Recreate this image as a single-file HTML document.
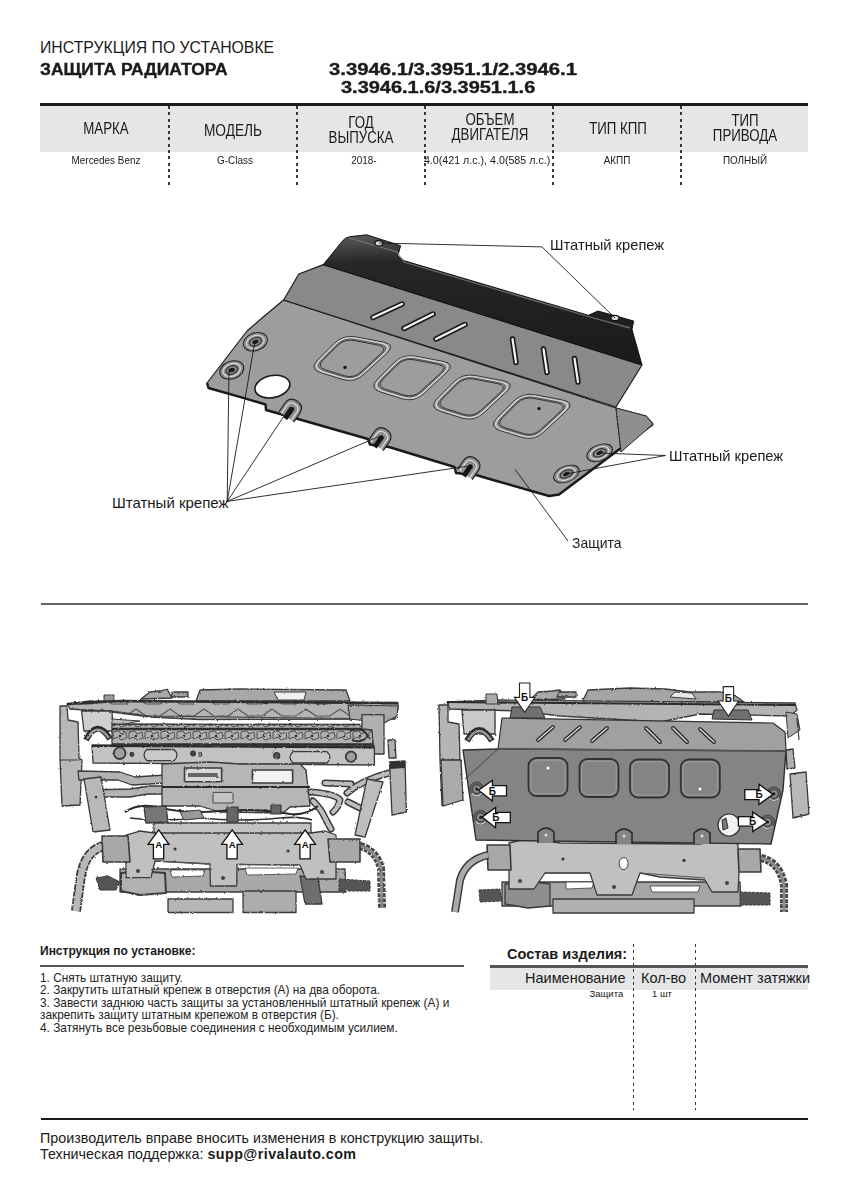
<!DOCTYPE html>
<html><head><meta charset="utf-8">
<style>
html,body{margin:0;padding:0;background:#fff;}
body{width:849px;height:1200px;position:relative;overflow:hidden;font-family:"Liberation Sans",sans-serif;color:#1a1a1a;}
.a{position:absolute;white-space:nowrap;line-height:1;}
.b{font-weight:bold;}
.hl{position:absolute;background:#1a1a1a;}
.dv{position:absolute;width:1.5px;background:repeating-linear-gradient(to bottom,#3a3a3a 0 3px,transparent 3px 6.3px);}
.c{text-align:center;}
.th{width:128px;font-size:16px;transform:scaleX(0.83);transform-origin:50% 0;}
.td{width:128px;font-size:11px;transform:scaleX(0.9);transform-origin:50% 0;}
</style></head><body>
<!-- header -->
<div class="a" id="t1" style="left:40px;top:40px;font-size:15.8px;">ИНСТРУКЦИЯ ПО УСТАНОВКЕ</div>
<div class="a b" id="t2" style="-webkit-text-stroke:0.35px #1a1a1a;left:40px;top:61.5px;font-size:15.6px;transform:scaleX(1.12);transform-origin:0 0;">ЗАЩИТА РАДИАТОРА</div>
<div class="a b" id="t3" style="-webkit-text-stroke:0.35px #1a1a1a;left:329px;top:61.5px;font-size:15.6px;transform:scaleX(1.3);transform-origin:0 0;">3.3946.1/3.3951.1/2.3946.1</div>
<div class="a b" id="t4" style="-webkit-text-stroke:0.35px #1a1a1a;left:341px;top:79.5px;font-size:15.6px;transform:scaleX(1.28);transform-origin:0 0;">3.3946.1.6/3.3951.1.6</div>

<!-- table -->
<div class="hl" style="left:40px;top:103.2px;width:768px;height:2.4px;"></div>
<div style="position:absolute;left:40px;top:105.5px;width:768px;height:46px;background:#e5e6e8;"></div>
<div class="dv" style="left:168px;top:106px;height:80px;"></div>
<div class="dv" style="left:296px;top:106px;height:80px;"></div>
<div class="dv" style="left:424px;top:106px;height:80px;"></div>
<div class="dv" style="left:552px;top:106px;height:80px;"></div>
<div class="dv" style="left:680px;top:106px;height:80px;"></div>

<div class="a c th" style="left:41.5px;top:121px;">МАРКА</div>
<div class="a c th" style="left:169px;top:122px;font-size:16.5px;">МОДЕЛЬ</div>
<div class="a c th" style="left:296.5px;top:114.5px;line-height:15.3px;">ГОД<br>ВЫПУСКА</div>
<div class="a c th" style="left:426px;top:111.5px;line-height:15.3px;">ОБЪЕМ<br>ДВИГАТЕЛЯ</div>
<div class="a c th" style="left:554px;top:121px;">ТИП КПП</div>
<div class="a c th" style="left:681px;top:113px;line-height:15.3px;">ТИП<br>ПРИВОДА</div>

<div class="a c td" style="left:42px;top:154.5px;">Mercedes Benz</div>
<div class="a c td" style="left:171px;top:154.5px;">G-Class</div>
<div class="a c td" style="left:300px;top:154.5px;">2018-</div>
<div class="a c td" style="left:422px;top:154.5px;transform:scaleX(0.97);">4.0(421 л.с.), 4.0(585 л.с.)</div>
<div class="a c td" style="left:553px;top:154.5px;">АКПП</div>
<div class="a c td" style="left:681px;top:154.5px;">ПОЛНЫЙ</div>

<!--DRAW-->
<svg style="position:absolute;left:0;top:0" width="849" height="600" viewBox="0 0 849 600">
<defs>
<linearGradient id="gfl" x1="0" y1="0" x2="0.08" y2="1">
<stop offset="0" stop-color="#5a5b5c"/><stop offset="0.22" stop-color="#262728"/><stop offset="1" stop-color="#1a1b1c"/>
</linearGradient>
<g id="hole">
<ellipse cx="0" cy="0" rx="12.4" ry="8.8" fill="#8d8e90" stroke="#222" stroke-width="1"/>
<ellipse cx="0" cy="0" rx="9" ry="6.2" fill="none" stroke="#d8d8d8" stroke-width="1.2"/>
<ellipse cx="0" cy="0" rx="6" ry="4" fill="none" stroke="#333" stroke-width="1.2"/>
<ellipse cx="0" cy="0" rx="3.2" ry="2" fill="#1a1a1a"/>
</g>
<g id="notch">
<path d="M-9,9 L-9,-1 Q-9,-10 0,-10 Q9,-10 9,-1 L9,9" fill="#8f9092" stroke="#222" stroke-width="1.2"/>
<path d="M-6,9 L-6,-1 Q-6,-6.5 0,-6.5 Q6,-6.5 6,-1 L6,9" fill="none" stroke="#dcdcdc" stroke-width="1.3"/>
<path d="M-2.4,11 L-2.4,-1.5 Q0,-4.5 2.4,-1.5 L2.4,11 Z" fill="#151515"/>
</g>
<g id="win" fill="none">
<path d="M333.9,343.6 Q343.1,334.4 355.9,336.9 L383.4,342.1 Q396.2,344.6 386.7,353.4 L364.0,374.4 Q354.5,383.2 342.1,379.4 L321.0,372.8 Q308.6,369.0 317.8,359.8 Z" stroke="#3a3a3a" stroke-width="1"/>
<path d="M335.2,344.5 Q343.6,336.0 355.4,338.3 L381.2,343.3 Q393.0,345.5 384.2,353.7 L363.0,373.3 Q354.2,381.4 342.8,377.9 L323.0,371.8 Q311.5,368.2 320.0,359.7 Z" stroke="#d0d0d0" stroke-width="1.5"/>
<path d="M336.3,345.2 Q344.1,337.4 354.9,339.5 L379.5,344.2 Q390.3,346.3 382.2,353.8 L362.1,372.4 Q354.0,379.9 343.5,376.6 L324.6,370.8 Q314.1,367.5 321.8,359.8 Z" stroke="#555" stroke-width="1"/>
<path d="M337.4,345.7 Q344.5,338.6 354.3,340.5 L378.2,345.1 Q388.0,347.0 380.7,353.8 L361.1,371.8 Q353.8,378.6 344.2,375.7 L325.7,369.9 Q316.2,367.0 323.2,359.9 Z" stroke="#333" stroke-width="1"/>
</g>
</defs>
<!-- main panel -->
<path d="M283.6,300 L262,318 L247,331 L207,383 L208.5,388 L245,398.4 L265.5,404.5 L266,410 L291,417 L368,439 L370,444.5 L389,447 L454.5,467 L456,473 L476,475 L493,480 L549,496 L559,494.5 L653,424 L646,416 L616,408 Z" fill="#9c9d9f" stroke="#1c1c1c" stroke-width="1.2" stroke-linejoin="round"/>
<path d="M207,383 L208.5,388 L245,398.4 L265.5,404.5 L266,410 L291,417 L368,439 L370,444.5 L389,447 L454.5,467 L456,473 L476,475 L493,480 L549,496 L559,494.5 L653,424" fill="none" stroke="#1a1a1a" stroke-width="2.4" stroke-linejoin="round"/>
<!-- flap -->
<path d="M616,408 L646,416 L653,424 L621,452 Z" fill="#8e8f91" stroke="#333" stroke-width="1"/>
<path d="M616,409 L621,452" stroke="#222" stroke-width="1" stroke-dasharray="2,1.5" fill="none"/>
<!-- mid panel -->
<path d="M323.3,264.6 L298.8,274 L289.5,290 L283.6,300 L616,407 L642,365 Z" fill="#87898a" stroke="#1c1c1c" stroke-width="1.2" stroke-linejoin="round"/>
<!-- black flange -->
<path d="M323.3,264.6 L342,241.5 Q345,237.5 349.7,236.7 L366.7,234.8 L400.6,245.7 L397.8,256 L404.4,260.8 L588.4,315.3 L598,311 L633.6,321 L632,329.5 L642,365 Z" fill="url(#gfl)" stroke="#111" stroke-width="1"/>
<path d="M349.7,238 L397,252 L404,262 L590,317 L630,328" fill="none" stroke="#8a8b8c" stroke-width="1.3" opacity="0.7"/>
<ellipse cx="379" cy="243.3" rx="4" ry="2.6" fill="#ddd" stroke="#111" stroke-width="1.2"/>
<ellipse cx="615" cy="318" rx="4" ry="2.6" fill="#ddd" stroke="#111" stroke-width="1.2"/>
<!-- slots -->
<g stroke="#1a1a1a" stroke-width="5.5" stroke-linecap="round"><line x1="373" y1="317.5" x2="402" y2="304"/><line x1="404" y1="328.5" x2="433" y2="314"/><line x1="436" y1="339" x2="465" y2="324.5"/><line x1="512.5" y1="339" x2="516" y2="362.5"/><line x1="543.5" y1="349" x2="547" y2="372.5"/><line x1="574.5" y1="358.5" x2="578" y2="382"/></g>
<g stroke="#f4f4f4" stroke-width="2.2" stroke-linecap="round"><line x1="373" y1="317.5" x2="402" y2="304"/><line x1="404" y1="328.5" x2="433" y2="314"/><line x1="436" y1="339" x2="465" y2="324.5"/><line x1="512.5" y1="339" x2="516" y2="362.5"/><line x1="543.5" y1="349" x2="547" y2="372.5"/><line x1="574.5" y1="358.5" x2="578" y2="382"/></g>
<!-- windows -->
<use href="#win"/>
<use href="#win" x="59.8" y="19.3"/>
<use href="#win" x="119.6" y="38.6"/>
<use href="#win" x="179.4" y="57.9"/>
<circle cx="345" cy="367.4" r="1.7" fill="#111"/>
<circle cx="539" cy="408.6" r="1.7" fill="#111"/>
<!-- holes -->
<use href="#hole" transform="translate(255.4,341.8) rotate(-20)"/>
<use href="#hole" transform="translate(231.8,370) rotate(-20)"/>
<use href="#hole" transform="translate(599.6,452.8) rotate(-22) scale(1.08,0.9)"/>
<use href="#hole" transform="translate(566.4,474) rotate(-22) scale(1.08,0.9)"/>
<ellipse cx="272.4" cy="386.6" rx="17.7" ry="11" transform="rotate(-12 272.4 386.6)" fill="#fff" stroke="#1a1a1a" stroke-width="1.6"/>
<use href="#notch" transform="translate(291.5,409.5) rotate(35)"/>
<use href="#notch" transform="translate(381,438) rotate(35)"/>
<use href="#notch" transform="translate(470,467) rotate(35)"/>
<!-- leaders -->
<g stroke="#1a1a1a" stroke-width="0.9" fill="none">
<polyline points="379,243 542,246.9 615,318"/>
<polyline points="227.2,501.4 229,369"/>
<polyline points="227.2,501.4 255,341"/>
<polyline points="227.2,501.4 290,407"/>
<polyline points="227.2,501.4 380,436"/>
<polyline points="227.2,501.4 469,466"/>
<polyline points="599,453 665.4,455.5 566,474"/>
<polyline points="515.3,469.7 568,541"/>
</g>
</svg>
<div class="a" style="left:550px;top:237px;font-size:15px;transform:scaleX(0.98);transform-origin:0 0;">Штатный крепеж</div>
<div class="a" style="left:669px;top:448px;font-size:15px;transform:scaleX(0.98);transform-origin:0 0;">Штатный крепеж</div>
<div class="a" style="left:112px;top:495px;font-size:15px;">Штатный крепеж</div>
<div class="a" style="left:571.5px;top:534.5px;font-size:15px;transform:scaleX(0.93);transform-origin:0 0;">Защита</div>

<!--/DRAW-->

<!-- mid line -->
<div class="hl" style="left:40.5px;top:603px;width:767.5px;height:2px;background:#666;"></div>

<!-- PHOTOS -->
<!--LP-->
<svg style="position:absolute;left:0;top:0" width="849" height="1200" viewBox="0 0 849 1200">
<defs>
<filter id="rough" x="-5%" y="-5%" width="110%" height="110%"><feTurbulence type="fractalNoise" baseFrequency="0.35" numOctaves="2" seed="3"/><feDisplacementMap in="SourceGraphic" scale="2.2"/></filter>
<pattern id="radcell" x="0" y="729" width="16" height="13" patternUnits="userSpaceOnUse">
<rect x="0" y="0" width="16" height="13" fill="#b0b0b0"/>
<path d="M1,3 L7,2 L9,5 L14,3 L15,9 L9,11 L6,8 L1,10 Z" fill="none" stroke="#444" stroke-width="0.9"/>
<circle cx="8" cy="7" r="1.3" fill="#333"/>
</pattern>
<pattern id="zig" x="0" y="707" width="34" height="12" patternUnits="userSpaceOnUse">
<rect width="34" height="12" fill="#b4b4b4"/>
<path d="M0,2 L10,9 L24,9 L34,2" fill="none" stroke="#555" stroke-width="1.2"/>
</pattern>
</defs>
<g id="LP" filter="url(#rough)" stroke="#3a3a3a" stroke-width="1.3" stroke-linejoin="round" fill="#b9b9b9">
<!-- top bumps -->
<path d="M141,699 L150,692 L160,691 L167,689 L172,698 Z" fill="#a9a9a9"/>
<path d="M171,697 L173,692 L188,692 L188,697 Z" fill="#a0a0a0"/>
<path d="M196,701 L200,690 L240,689 L346,690 L350,701 Z" fill="#a8a8a8"/>
<path d="M274,692 L306,692 L304,700 L278,700 Z" fill="#f0f0f0" stroke-width="1"/>
<path d="M104,695 L114,695 L114,704 L104,704 Z" fill="#999" stroke-width="1"/>
<!-- top rail -->
<path d="M67,704 L90,701 L398,703 L398,709 L395,719 L200,719.5 L150,717 L112,712 L70,709 Z" fill="url(#zig)"/>
<path d="M67,704 L120,701 L398,703" fill="none" stroke="#2e2e2e" stroke-width="2.6"/>
<path d="M70,709 L112,711 L150,716 L395,719" fill="none" stroke="#444" stroke-width="1.2"/>
<path d="M348,705 L398,706 L397,716 L384,723 L350,719 Z" fill="#a8a8a8" stroke-width="1.1"/>
<!-- left pillar -->
<path d="M60,706 L67,706 L68,720 L78,722 L79,758 L82,760 L80,805 L62,806 L60,760 Z" fill="#b8b8b8"/>
<path d="M60,760 L80,760" fill="none" stroke-width="1"/>
<!-- block + arc -->
<path d="M81.5,711 L112,711 L113,731 L84,731 Z" fill="#cfcfcf"/>
<path d="M86,740 Q97,718 110,739" fill="none" stroke="#2a2a2a" stroke-width="6"/>
<path d="M87,739 Q97,721 109,738" fill="none" stroke="#9a9a9a" stroke-width="2.5"/>
<!-- second bar (radiator) -->
<path d="M112,724 L373,724.5 L373,746.8 L112,745 Z" fill="url(#radcell)"/>
<path d="M112,729 L373,729 M112,744.5 L373,744.5" fill="none" stroke="#2e2e2e" stroke-width="2.4"/>
<path d="M112,719 L140,721 L125,724 L112,724 Z" fill="#bbb" stroke-width="1"/>
<path d="M362,714.6 L384,714.6 L384,754 L374,754 L372,730 L362,729 Z" fill="#b0b0b0"/>
<path d="M350,731 Q362,726 368,736 Q362,744 352,740" fill="none" stroke="#333" stroke-width="2"/>
<!-- third bar -->
<path d="M92,745 L374.4,746.8 L374.4,765 L93,763 Z" fill="#c2c2c2"/>
<path d="M92,746 L374,747.5" fill="none" stroke="#2a2a2a" stroke-width="1.8"/>
<circle cx="119.7" cy="753.2" r="5.8" fill="#a0a0a0" stroke-width="1.8"/>
<circle cx="132" cy="754.5" r="1.8" fill="#444"/>
<circle cx="351" cy="756.7" r="5.2" fill="#a0a0a0" stroke-width="1.8"/>
<path d="M147,749.5 L174,749.5 Q180,755 174,760.7 L147,760.7 Q141,755 147,749.5 Z" fill="#c9c9c9" stroke-width="1.3"/>
<path d="M293,751.7 L327,751.7 Q333,757 327,763 L293,763 Q287,757 293,751.7 Z" fill="#c9c9c9" stroke-width="1.3"/>
<circle cx="193" cy="753.5" r="2.3" fill="#444"/><text x="198" y="757" font-size="8" fill="#333" stroke="none" font-weight="bold">9</text><circle cx="276.7" cy="755.7" r="3" fill="#555"/>
<!-- hoses left -->
<path d="M78,771 L120,772 L135,777 L165,775 L165,783 L132,785 L118,780 L79,780 Z" fill="#b3b3b3"/>
<path d="M90,790 L130,789 L150,786 L163,786 L163,794 L148,794 L130,797 L90,797 Z" fill="#b3b3b3"/>
<!-- left lower pillar -->
<path d="M84,779 L101,777 L110,830 L93,832 Z" fill="#b8b8b8"/>
<circle cx="96" cy="797" r="1.3" fill="#333" stroke="none"/>
<!-- center bracket -->
<path d="M162,764 L210,762 L240,764 L300,764 L306,770 L310,806 L290,807 L283,813 L220,812 L200,806 L162,806 Z" fill="#b6b6b6"/>
<path d="M162,787 L310,787" fill="none" stroke="#2a2a2a" stroke-width="1.8"/>
<path d="M184.5,768 L221.6,768 L221.6,781.8 L184.5,781.8 Z" fill="#d8d8d8" stroke-width="1.6"/><path d="M188,773 L218,773 L218,777 L188,777 Z" fill="#666" stroke="none"/>
<path d="M252.4,770 L292.6,770 L292.6,783 L252.4,783 Z" fill="#f2f2f2" stroke-width="1.6"/>
<rect x="213" y="792.4" width="20" height="10.6" fill="#c4c4c4" stroke-width="0.9"/>
<!-- right hoses -->
<g fill="none" stroke-linecap="round">
<path d="M311,792 Q336,794 340,800 Q338,808 333,812 M313,801 Q322,810 325,818 L331,829 M325,783 L351,784 M347,793 Q362,780 389,773 M348,802 L360,808" stroke="#3a3a3a" stroke-width="7"/>
<path d="M311,792 Q336,794 340,800 Q338,808 333,812 M313,801 Q322,810 325,818 L331,829 M325,783 L351,784 M347,793 Q362,780 389,773 M348,802 L360,808" stroke="#bdbdbd" stroke-width="4"/>
</g>
<!-- right pillars -->
<path d="M388,740 L395,740 L396,758 L389,758 Z" fill="#b0b0b0"/>
<path d="M367,779 L383,782 L365,837 L355,835 Z" fill="#bebebe"/>
<path d="M389.5,762 L405,761 L406.4,812 L392,815 Z" fill="#b4b4b4"/>
<path d="M389.5,762 L405,761 L405,768 L390,769 Z" fill="#333" stroke="none"/>
<!-- wires -->
<path d="M125,812 Q140,802 160,808 Q190,814 220,811 Q260,808 290,814 Q305,816 318,806" fill="none" stroke="#2a2a2a" stroke-width="2.2"/>
<path d="M130,818 Q160,822 200,818 Q240,822 280,818 Q300,816 312,820" fill="none" stroke="#333" stroke-width="1.6"/>
<path d="M144,807 L166,806 L168,822 L146,823 Z" fill="#777" stroke-width="1.3"/>
<path d="M227,807 L238,807 L238,822 L227,822 Z" fill="#666" stroke-width="1.2"/>
<path d="M271,805 L281,805 L281,814 L271,814 Z" fill="#666" stroke-width="1.2"/>
<path d="M180,812 L200,810 L204,818 L184,820 Z" fill="#999" stroke-width="1"/>
<!-- lower steering / engine -->
<path d="M120,869 L345,869 L346,892 L120,892 Z" fill="#a9a9a9"/>
<path d="M121,873 L140,871 L165,873 L166,893 L140,895 L121,891 Z" fill="#b2b2b2" stroke-width="2"/>
<path d="M170,870 L205,870 L203,876 L172,877 Z" fill="#fff" stroke-width="0.8"/>
<path d="M245,868 L298,868 L296,874 L247,875 Z" fill="#fff" stroke-width="0.8"/>
<path d="M168,899 L233,899 L233,912.5 L168,912.5 Z" fill="#b6b6b6"/>
<path d="M243,891 L296,891 L296,912.5 L243,912.5 Z" fill="#adadad"/>
<path d="M300,876 L318,878 L322,904 L305,904 Z" fill="#6e6e6e"/>
<path d="M96,878 L108,876 L120,882 L116,890 L100,890 Z" fill="#555" stroke-width="1"/>
<path d="M339,879 L370,881 L370,891 L339,891 Z" fill="#555" stroke-width="1" stroke-dasharray="3,1"/>
<!-- crossmember -->
<path d="M154,823 L311,823 L311,835 L154,835 Z" fill="#c2c2c2"/>
<path d="M126,835 L140,831 L154,833 L311,833 L325,831 L336,835 L336,879 L306,879 L300,865 L237,864.5 L236.8,886 L210.4,886 L210,864 L155,861 L151,877.7 L126,877.7 Z" fill="#c0c0c0"/>
<path d="M155,861 L210,864 M237,864.5 L300,865" stroke="#555" stroke-width="1" fill="none"/>
<circle cx="138" cy="871" r="2" fill="#444" stroke="none"/><circle cx="223" cy="878" r="2" fill="#444" stroke="none"/><circle cx="322" cy="872" r="2" fill="#444" stroke="none"/>
<circle cx="175" cy="849" r="1.6" fill="#333" stroke="none"/><circle cx="288" cy="851" r="1.6" fill="#333" stroke="none"/>
<!-- bushings + arms -->
<path d="M104,846 Q86,850 81,875 L76,911" fill="none" stroke="#3a3a3a" stroke-width="10" stroke-dasharray="6,1"/>
<path d="M104,846 Q86,850 81,875 L76,911" fill="none" stroke="#b8b8b8" stroke-width="6.5"/>
<path d="M102,836 L128,836 L130,862 L103,862 Z" fill="#a8a8a8" stroke-width="1.6"/>
<path d="M360,846 Q376,850 381,868 L382,908" fill="none" stroke="#444" stroke-width="8" stroke-dasharray="4,1.2"/>
<path d="M360,846 Q376,850 381,868 L382,908" fill="none" stroke="#8a8a8a" stroke-width="3"/>
<path d="M328,839 L360,839 L360,862 L330,862 Z" fill="#a8a8a8" stroke-width="1.6"/>
</g>
<!-- arrows A -->
<g id="arrA" stroke="#111" stroke-width="1.3" fill="#fff">
<path d="M158.7,829.9 L169,844.4 L163.7,844.4 L163.7,858.9 L153.4,858.9 L153.4,844.4 L148.1,844.4 Z"/>
</g>
<use href="#arrA" x="73.5" y="0"/>
<use href="#arrA" x="146.5" y="0"/>
<g font-family="Liberation Sans" font-weight="bold" font-size="9.6" fill="#111" text-anchor="middle">
<text x="158.6" y="848.2">A</text><text x="232.1" y="848.2">A</text><text x="305.1" y="848.2">A</text>
</g>
</svg>

<!--/LP-->
<!--RP-->
<svg style="position:absolute;left:0;top:0" width="849" height="1200" viewBox="0 0 849 1200">
<defs>
<g id="arrB"><path d="M0,0 L-10.3,-15 L-5.2,-15 L-5.2,-29.4 L5.2,-29.4 L5.2,-15 L10.3,-15 Z" fill="#fff" stroke="#222" stroke-width="1.1"/></g>
<g id="winR"><rect x="0" y="0" width="39" height="38" rx="8" fill="#838486" stroke="#333" stroke-width="1.8"/><rect x="2.2" y="2.2" width="34.6" height="33.6" rx="6.5" fill="none" stroke="#9d9ea0" stroke-width="1"/></g>
</defs>
<g id="RP" filter="url(#rough)" stroke="#3a3a3a" stroke-width="1.3" stroke-linejoin="round" fill="#b9b9b9">
<!-- top bumps -->
<path d="M530,700 L538,692 L552,691 L560,690 L565,699 Z" fill="#a9a9a9"/>
<path d="M557,697 L559,692 L576,692 L576,697 Z" fill="#a0a0a0"/>
<path d="M583,700 L588,690 L630,688 L665,689 L690,692 L730,692 L744,702 L583,702 Z" fill="#a5a5a5"/>
<path d="M670,697 L675,692 L692,693 L696,699 Z" fill="#e8e8e8" stroke-width="1"/>
<!-- top rail -->
<path d="M447,702 L500,700 L795,703 L797,710 L790,716 L700,714 L660,722 L560,716 L520,711 L450,709 Z" fill="#b3b3b3"/>
<path d="M447,702 L795,705" fill="none" stroke="#2a2a2a" stroke-width="2.2"/>
<path d="M486,694 L497,694 L498,704 L486,704 Z" fill="#aaa" stroke-width="1"/>
<!-- left pillar -->
<path d="M439,705 L448,705 L448,722 L459,724 L460,760 L462,800 L442,806 L440,760 Z" fill="#b5b5b5"/>
<path d="M440,760 L460,760" fill="none" stroke-width="1"/>
<!-- block + arc -->
<path d="M462,710 L495,710 L495,734 L464,734 Z" fill="#c9c9c9"/>
<path d="M467,741 Q479,719 492,741" fill="none" stroke="#2a2a2a" stroke-width="6"/>
<path d="M468,740 Q479,722 491,740" fill="none" stroke="#9a9a9a" stroke-width="2.5"/>
<!-- right side stuff -->
<path d="M786,712 L797,714 L800,730 L788,738 Z" fill="#aaa" stroke-width="1"/>
<path d="M786,750 L793,749 L795,768 L787,769 Z" fill="#b0b0b0"/>
<path d="M790,774 L806,772 L809,814 L793,818 Z" fill="#b8b8b8"/>
<path d="M797,718 L799,740" fill="none" stroke-width="1.2"/>
<!-- left bottom pillar region -->
<path d="M441,760 L461,760 L463,800 L443,806 Z" fill="#aaaaaa"/>
</g>
<!-- below plate -->
<g stroke="#3a3a3a" stroke-width="1.3" stroke-linejoin="round" fill="#bdbdbd">
<path d="M502,882 L740,882 L741,906 L502,906 Z" fill="#a5a5a5"/>
<path d="M505,884 L528,881 L550,884 L550,906 L528,908 L505,904 Z" fill="#8e8e8e"/>
<path d="M566,882 L594,882 L592,888 L566,889 Z" fill="#fff" stroke-width="0.8"/>
<path d="M650,886 L700,886 L698,892 L652,892 Z" fill="#fff" stroke-width="0.8"/>
<path d="M553,899 L694,899 L694,913 L553,913 Z" fill="#b0b0b0"/>
<path d="M509,843 L530,838 L560,843 L700,844 L725,838 L738,844.5 L739,873 L738,892 L712,892 L705,880 L660,877 L640,873 L632,895 L597,895 L590,873 L545,873 L534,889 L509,889 Z" fill="#c0c0c0"/>
<path d="M545,873 L590,873 M640,873 L705,878" stroke="#555" stroke-width="1" fill="none"/>
<ellipse cx="623.6" cy="863.6" rx="4.5" ry="6" fill="#fff" stroke-width="1"/>
<circle cx="563" cy="859" r="1.6" fill="#333" stroke="none"/><circle cx="684" cy="860.4" r="1.6" fill="#333" stroke="none"/>
<circle cx="520" cy="881" r="2" fill="#444" stroke="none"/><circle cx="614" cy="887" r="2" fill="#444" stroke="none"/><circle cx="727" cy="883" r="2" fill="#444" stroke="none"/>
<path d="M487,845 L510,845 L511,870 L488,870 Z" fill="#a8a8a8" stroke-width="1.6"/>
<path d="M488,855 Q466,860 460,880 L455,912" fill="none" stroke="#3a3a3a" stroke-width="8"/><path d="M488,855 Q466,860 460,880 L455,912" fill="none" stroke="#aaa" stroke-width="5"/>
<path d="M738,849 L760,849 L761,872 L739,872 Z" fill="#a8a8a8" stroke-width="1.6"/>
<path d="M761,858 Q780,862 784,885 L784,912" fill="none" stroke="#444" stroke-width="8" stroke-dasharray="4,1.2"/><path d="M761,858 Q780,862 784,885 L784,912" fill="none" stroke="#8a8a8a" stroke-width="3"/>
<path d="M479,890 L500,889 L502,901 L480,902 Z" fill="#555" stroke-width="1" stroke-dasharray="3,1"/>
<path d="M740,892 L770,893 L770,905 L740,905 Z" fill="#555" stroke-width="1" stroke-dasharray="3,1"/>
</g>
<!-- plate -->
<g stroke-linejoin="round">
<path d="M510,718 L512,707 L540,707 L545,718 Z" fill="#6f7072" stroke="#333" stroke-width="1"/>
<path d="M712,719 L714,710 L748,710 L752,720 Z" fill="#6f7072" stroke="#333" stroke-width="1"/>
<path d="M502,718 L773,723 L785,732 L786,751 L498,749 Z" fill="#9fa0a2" stroke="#333" stroke-width="1.2"/>
<path d="M463,750 L498,749 L786,751 L783,790 L771,844 L476,840 Z" fill="#838486" stroke="#2e2e2e" stroke-width="1.4"/>
<path d="M498,749 L465,779" stroke="#444" stroke-width="1" fill="none"/>
<path d="M498,749 L786,751" stroke="#555" stroke-width="1.6" fill="none"/>
<!-- notches -->
<g fill="#838486" stroke="#2a2a2a" stroke-width="1.6">
<path d="M538,843 L538,832 Q546,824 554,832 L554,843"/>
<path d="M616,844 L616,833 Q624,825 632,833 L632,844"/>
<path d="M694,844 L694,833 Q702,825 710,833 L710,844"/>
</g>
<g fill="#ddd"><circle cx="546" cy="835" r="1.5"/><circle cx="624" cy="836" r="1.5"/><circle cx="702" cy="836" r="1.5"/></g>
<!-- slots -->
<g stroke="#2a2a2a" stroke-width="4" stroke-linecap="round">
<line x1="538" y1="740" x2="553" y2="727"/><line x1="565" y1="740" x2="580" y2="727"/><line x1="592" y1="741" x2="607" y2="728"/>
<line x1="646" y1="728" x2="660" y2="742"/><line x1="673" y1="728" x2="687" y2="742"/><line x1="700" y1="729" x2="714" y2="742"/>
</g>
<g stroke="#d8d8d8" stroke-width="1.5" stroke-linecap="round">
<line x1="538" y1="740" x2="553" y2="727"/><line x1="565" y1="740" x2="580" y2="727"/><line x1="592" y1="741" x2="607" y2="728"/>
<line x1="646" y1="728" x2="660" y2="742"/><line x1="673" y1="728" x2="687" y2="742"/><line x1="700" y1="729" x2="714" y2="742"/>
</g>
<!-- windows -->
<use href="#winR" x="528.5" y="758"/>
<use href="#winR" x="579.5" y="759"/>
<use href="#winR" x="630" y="759.5"/>
<use href="#winR" x="680.8" y="759.5"/>
<circle cx="548" cy="768" r="1.5" fill="#fff"/><circle cx="700" cy="789" r="1.5" fill="#fff"/>
<!-- holes -->
<defs><g id="hr"><circle cx="0" cy="0" r="7" fill="#5f6062" stroke="#444" stroke-width="1"/><circle cx="0" cy="0" r="4.2" fill="#8d8e90" stroke="#333" stroke-width="0.8"/><circle cx="0" cy="0" r="1.6" fill="#222"/><path d="M-5,4 A6,6 0 0 0 5,4" stroke="#c8c8c8" stroke-width="1.2" fill="none"/></g></defs><use href="#hr" x="476.8" y="789.1"/><use href="#hr" x="480.6" y="817.4"/><use href="#hr" x="773.9" y="793.9"/><use href="#hr" x="767.5" y="822"/>
<circle cx="729" cy="825" r="11" fill="#f2f2f2" stroke="#333" stroke-width="1.2"/>
<path d="M722,820 L726,818 L728,828 L723,830 Z" fill="#777" stroke="#333" stroke-width="1"/>
</g>

<!-- arrows Б -->
<use href="#arrB" x="524.7" y="712.4"/>
<use href="#arrB" x="728.4" y="716"/>
<g fill="#fff" stroke="#111" stroke-width="1.3">
<path d="M478.5,790.3 L492.4,780.3 L492.4,785.6 L506.5,785.6 L506.5,795.9 L492.4,795.9 L492.4,800.9 Z"/>
<path d="M482,817.1 L495.6,807.4 L495.6,812.4 L510.3,812.4 L510.3,822.7 L495.6,822.7 L495.6,827.7 Z"/>
<path d="M773,794.4 L759,784.3 L759,789.6 L744.8,789.6 L744.8,799.7 L759,799.7 L759,804.5 Z"/>
<path d="M767.5,822 L752.7,811.9 L752.7,816.6 L738.4,816.6 L738.4,826.2 L752.7,826.2 L752.7,831.5 Z"/>
</g>
<g font-family="Liberation Sans" font-weight="bold" font-size="10" fill="#111" text-anchor="middle">
<text x="524.7" y="701">Б</text><text x="728.4" y="702">Б</text>
<text x="492.4" y="794.5">Б</text><text x="495.8" y="821.1">Б</text>
<text x="759" y="798.2">Б</text><text x="752.7" y="825.2">Б</text>
</g>
</svg>

<!--/RP-->

<!-- instructions -->
<div class="a b" style="left:40px;top:945px;font-size:12px;">Инструкция по установке:</div>
<div class="hl" style="left:40px;top:965px;width:424px;height:2px;background:#555;"></div>
<div class="a" style="left:40px;top:971.5px;font-size:11.85px;line-height:12.65px;color:#222;">1. Снять штатную защиту.<br>2. Закрутить штатный крепеж в отверстия (А) на два оборота.<br>3. Завести заднюю часть защиты за установленный штатный крепеж (А) и<br>закрепить защиту штатным крепежом в отверстия (Б).<br>4. Затянуть все резьбовые соединения с необходимым усилием.</div>

<!-- composition -->
<div class="a b" style="left:507px;top:946.5px;font-size:14.5px;">Состав изделия:</div>
<div class="hl" style="left:490px;top:965px;width:318px;height:2.5px;background:#555;"></div>
<div style="position:absolute;left:490px;top:967.5px;width:318px;height:22px;background:#e5e6e8;"></div>
<div class="dv" style="left:632.5px;top:944px;height:166px;"></div>
<div class="dv" style="left:694.5px;top:944px;height:166px;"></div>
<div class="a" style="left:525px;top:971px;font-size:14.5px;">Наименование</div>
<div class="a" style="left:641px;top:971px;font-size:14.5px;">Кол-во</div>
<div class="a" style="left:700px;top:971px;font-size:14.5px;">Момент затяжки</div>
<div class="a" style="left:589.5px;top:988.5px;font-size:9.5px;">Защита</div>
<div class="a" style="left:652px;top:988.5px;font-size:9.5px;">1 шт</div>

<!-- footer -->
<div class="hl" style="left:40.5px;top:1117.5px;width:767.5px;height:2.5px;"></div>
<div class="a" style="left:40px;top:1129.5px;font-size:14.3px;line-height:16.9px;">Производитель вправе вносить изменения в конструкцию защиты.<br>Техническая поддержка: <b style="letter-spacing:0.45px">supp@rivalauto.com</b></div>
</body></html>
